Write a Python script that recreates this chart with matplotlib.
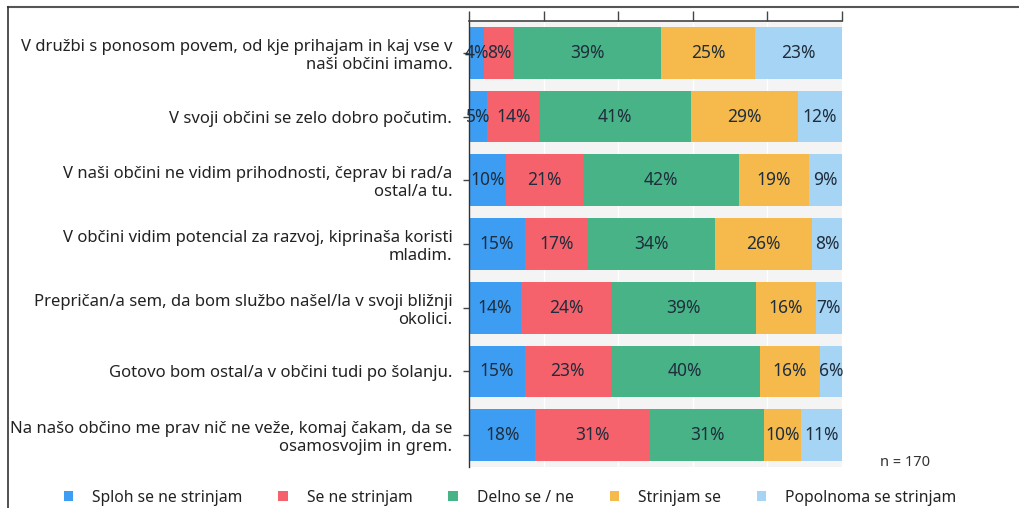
import matplotlib
matplotlib.use("Agg")
import matplotlib.pyplot as plt
import numpy as np
from matplotlib.lines import Line2D
from matplotlib.patches import Patch

statements = [
    "V družbi s ponosom povem, od kje prihajam in kaj vse v\nnaši občini imamo.",
    "V svoji občini se zelo dobro počutim.",
    "V naši občini ne vidim prihodnosti, čeprav bi rad/a\nostal/a tu.",
    "V občini vidim potencial za razvoj, kiprinaša koristi\nmladim.",
    "Prepričan/a sem, da bom službo našel/la v svoji bližnji\nokolici.",
    "Gotovo bom ostal/a v občini tudi po šolanju.",
    "Na našo občino me prav nič ne veže, komaj čakam, da se\nosamosvojim in grem.",
]
categories = [
    "Sploh se ne strinjam",
    "Se ne strinjam",
    "Delno se / ne",
    "Strinjam se",
    "Popolnoma se strinjam",
]
sploh = [4, 5, 10, 15, 14, 15, 18]
se_ne = [8, 14, 21, 17, 24, 23, 31]
delno = [39, 41, 42, 34, 39, 40, 31]
strinjam = [25, 29, 19, 26, 16, 16, 10]
popolnoma = [23, 12, 9, 8, 7, 6, 11]
n_label = "n = 170"

COLORS = ["#3d9df2", "#f6626b", "#48b386", "#f5ba4b", "#a6d4f4"]
TEXT = "#1f2d3d"
FONT = "Noto Sans"

series = np.array([sploh, se_ne, delno, strinjam, popolnoma], dtype=float)
shares = series / series.sum(axis=0) * 100  # bars fill the full width

fig = plt.figure(figsize=(10.19, 5.08), dpi=100)
fig.patch.set_facecolor("white")
ax = fig.add_axes([469 / 1019, 1 - 467 / 508, 373 / 1019, 446 / 508])
ax.set_facecolor("#f4f4f4")

y = np.arange(len(statements))
left = np.zeros(len(statements))
for k, color in enumerate(COLORS):
    ax.barh(y, shares[k], left=left, height=0.81, color=color, zorder=2)
    for i in range(len(statements)):
        ax.text(left[i] + shares[k][i] / 2, y[i], f"{int(series[k][i])}%",
                ha="center", va="center", fontsize=12.5, color=TEXT,
                family=FONT, zorder=3)
    left += shares[k]

ax.set_xlim(0, 100)
ax.set_ylim(6.5, -0.5)
ax.set_xticks(np.arange(0, 101, 20))
ax.xaxis.tick_top()
ax.tick_params(axis="x", length=7, width=1, color="#444444", labeltop=False,
               direction="out")
ax.grid(axis="x", color="white", linewidth=1, zorder=1)
ax.set_axisbelow(True)

ax.set_yticks(y)
ax.set_yticklabels(statements, family=FONT, fontsize=12, color="#222222",
                   ha="right", multialignment="right", linespacing=1.15)
ax.tick_params(axis="y", length=4, width=1, color="#444444", pad=8)

for side in ("right", "bottom"):
    ax.spines[side].set_visible(False)
ax.spines["top"].set_color("#444444")
ax.spines["top"].set_linewidth(1.2)
ax.spines["left"].set_color("#333333")
ax.spines["left"].set_linewidth(1.0)

fig.text(880 / 1019, 1 - 463 / 508, n_label, family=FONT, fontsize=10.5,
         color="#333333", ha="left", va="center")

handles = [Patch(facecolor=c, edgecolor="none", label=l)
           for c, l in zip(COLORS, categories)]
fig.legend(handles=handles, loc="center", bbox_to_anchor=(510 / 1019, 1 - 498 / 508),
           ncol=5, frameon=False, prop={"family": FONT, "size": 11.3},
           handlelength=0.6, handleheight=0.6, handletextpad=1.2,
           columnspacing=2.3, labelcolor="#222222")

# screenshot frame
fig.add_artist(Line2D([8 / 1019, 1], [1 - 7 / 508] * 2, color="#555555",
                      linewidth=1.5, transform=fig.transFigure))
fig.add_artist(Line2D([8 / 1019] * 2, [0, 1 - 7 / 508], color="#333333",
                      linewidth=1.2, transform=fig.transFigure))

fig.savefig("out.png", dpi=100)
